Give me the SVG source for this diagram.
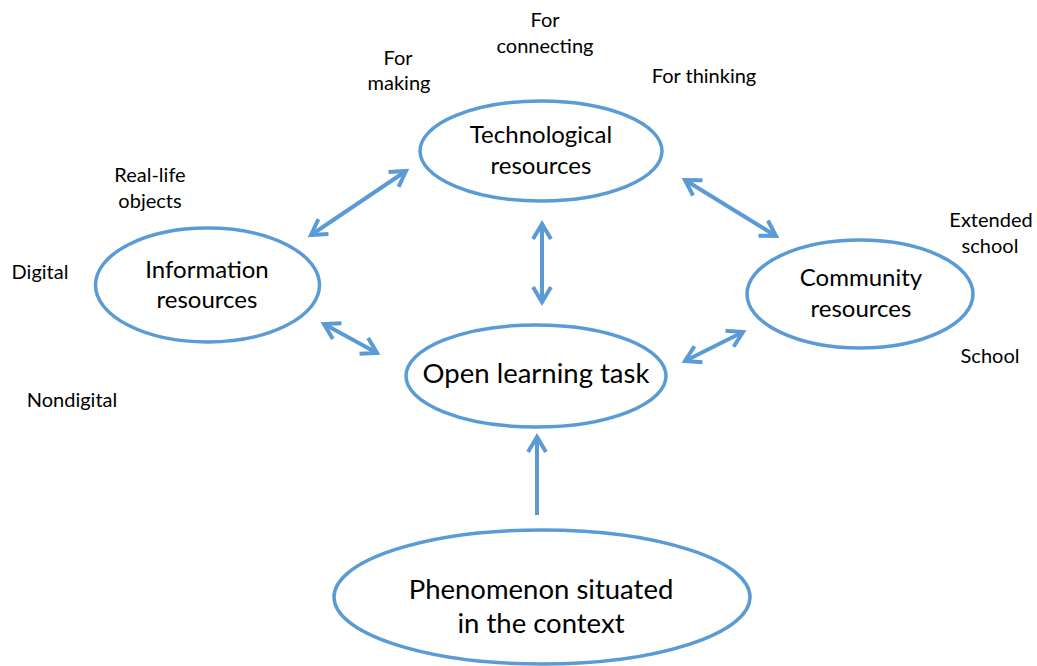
<svg xmlns="http://www.w3.org/2000/svg" width="1037" height="666" viewBox="0 0 1037 666">
<style>
.node ellipse{fill:#fff;stroke:#5B9BD5;stroke-width:3.5}
text{font-family:Lato,"Open Sans","Liberation Sans",sans-serif;fill:#000;text-anchor:middle}
.n{font-size:24px}
.big{font-size:27.5px}
.lbl{font-size:20px}
.con line{stroke:#5B9BD5;stroke-width:4;marker-end:url(#ah)}
.con line.bi{marker-start:url(#ah)}
</style>
<defs>
<marker id="ah" viewBox="-20 -12 26 24" markerWidth="26" markerHeight="24" refX="0" refY="0" markerUnits="userSpaceOnUse" orient="auto-start-reverse">
<path d="M-15,-9 L0,0 L-15,9" fill="none" stroke="#5B9BD5" stroke-width="4"/>
</marker>
</defs>
<rect width="1037" height="666" fill="#fff"/>
<g class="con" id="connectors">
<line class="bi" x1="406" y1="171" x2="311" y2="235"/>
<line class="bi" x1="685" y1="180" x2="776" y2="236"/>
<line class="bi" x1="542" y1="224" x2="542" y2="302"/>
<line class="bi" x1="324" y1="324" x2="377" y2="353"/>
<line class="bi" x1="743" y1="332" x2="685" y2="361"/>
<line x1="537" y1="515" x2="537" y2="437"/>
</g>
<g class="node" id="tech">
<ellipse cx="541" cy="151" rx="121" ry="50"/>
<text class="n" x="541" y="143">Technological</text>
<text class="n" x="541" y="174">resources</text>
</g>
<g class="node" id="info">
<ellipse cx="207.5" cy="285" rx="112" ry="57"/>
<text class="n" x="207" y="278">Information</text>
<text class="n" x="207" y="308">resources</text>
</g>
<g class="node" id="community">
<ellipse cx="860" cy="294" rx="113" ry="54"/>
<text class="n" x="861" y="286">Community</text>
<text class="n" x="861" y="317">resources</text>
</g>
<g class="node" id="task">
<ellipse cx="536" cy="376" rx="130" ry="51"/>
<text class="big" x="536" y="383">Open learning task</text>
</g>
<g class="node" id="phenomenon">
<ellipse cx="542" cy="597" rx="208" ry="67"/>
<text class="big" x="541" y="599">Phenomenon situated</text>
<text class="big" x="541" y="633">in the context</text>
</g>
<g id="labels">
<text class="lbl" x="545" y="27">For</text>
<text class="lbl" x="545" y="53">connecting</text>
<text class="lbl" x="398" y="65">For</text>
<text class="lbl" x="399" y="90">making</text>
<text class="lbl" x="704" y="83">For thinking</text>
<text class="lbl" x="150" y="182">Real-life</text>
<text class="lbl" x="150" y="208">objects</text>
<text class="lbl" x="40" y="279">Digital</text>
<text class="lbl" x="72" y="407">Nondigital</text>
<text class="lbl" x="991" y="227">Extended</text>
<text class="lbl" x="990" y="253">school</text>
<text class="lbl" x="990" y="363">School</text>
</g>
</svg>
